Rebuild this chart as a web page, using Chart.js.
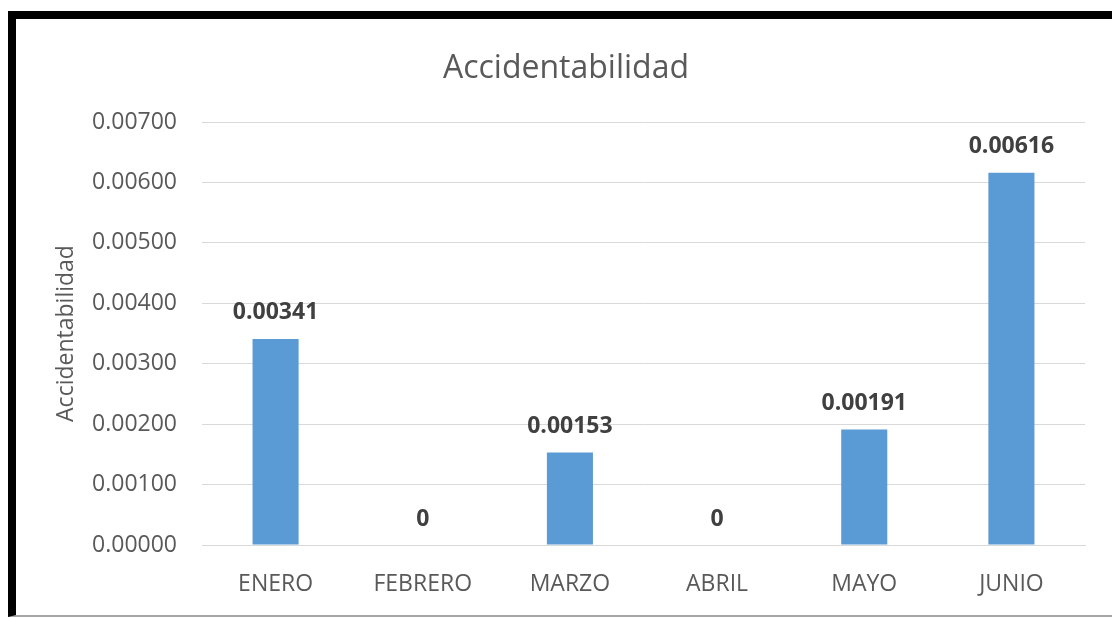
<!DOCTYPE html>
<html>
<head>
<meta charset="utf-8">
<script src="https://cdn.jsdelivr.net/npm/chart.js@4/dist/chart.umd.min.js"></script>
<style>
  html, body { margin: 0; padding: 0; background: #fff; }
  #frame {
    position: absolute; left: 8px; top: 11px; width: 1104px; height: 596px;
    border-left: 8px solid #000; border-top: 8px solid #000;
    border-bottom: 2px solid #a6a6a6; background: #fff;
  }
  #wrap { position: absolute; left: 0; top: 0; width: 1096px; height: 596px; }
</style>
</head>
<body>
<div id="frame"><div id="wrap"><canvas id="chart"></canvas></div></div>
<script>
// Data
const months = ['ENERO', 'FEBRERO', 'MARZO', 'ABRIL', 'MAYO', 'JUNIO'];
const accidentabilidad = [0.00341, 0, 0.00153, 0, 0.00191, 0.00616];
const yMax = 0.007;
const yStep = 0.001;

const FONT = '"Open Sans", "Liberation Sans", sans-serif';
const TEXT = '#595959';

// Bar value labels
const valueLabels = {
  id: 'valueLabels',
  afterDatasetsDraw(chart) {
    const ctx = chart.ctx;
    const meta = chart.getDatasetMeta(0);
    ctx.save();
    ctx.font = 'bold 23px ' + FONT;
    ctx.fillStyle = '#404040';
    ctx.textAlign = 'center';
    ctx.textBaseline = 'middle';
    meta.data.forEach((bar, i) => {
      const v = accidentabilidad[i];
      const txt = v === 0 ? '0' : v.toFixed(5);
      ctx.fillText(txt, bar.x, bar.y - 26);
    });
    ctx.restore();
  }
};

// Chart title drawn at a fixed spot
const chartTitle = {
  id: 'chartTitle',
  afterDraw(chart) {
    const ctx = chart.ctx;
    ctx.save();
    ctx.font = '32px ' + FONT;
    ctx.fillStyle = TEXT;
    ctx.textAlign = 'center';
    ctx.textBaseline = 'middle';
    ctx.fillText('Accidentabilidad', 550, 50);
    ctx.restore();
  }
};

new Chart(document.getElementById('chart'), {
  type: 'bar',
  data: {
    labels: months,
    datasets: [{
      label: 'Accidentabilidad',
      data: accidentabilidad,
      backgroundColor: '#5b9bd5',
      borderWidth: 0,
      categoryPercentage: 1,
      barPercentage: 0.313
    }]
  },
  options: {
    responsive: true,
    maintainAspectRatio: false,
    animation: false,
    layout: { padding: { top: 103, right: 27, bottom: 0, left: 0 } },
    plugins: {
      legend: { display: false },
      title: { display: false },
      tooltip: { enabled: false }
    },
    scales: {
      x: {
        grid: { display: false, drawTicks: false },
        border: { display: true, color: '#d9d9d9', width: 1 },
        ticks: { color: TEXT, font: { family: FONT, size: 23 }, padding: 26 },
        afterFit(scale) { scale.height = 70; }
      },
      y: {
        min: 0,
        max: yMax,
        ticks: {
          stepSize: yStep,
          color: TEXT,
          font: { family: FONT, size: 23 },
          padding: 25,
          callback: v => v.toFixed(5)
        },
        grid: { color: '#d9d9d9', drawTicks: false },
        border: { display: false },
        title: {
          display: true,
          text: 'Accidentabilidad',
          color: TEXT,
          font: { family: FONT, size: 23 },
          padding: { top: 37, bottom: 0 }
        },
        afterFit(scale) { scale.width = 186; }
      }
    }
  },
  plugins: [valueLabels, chartTitle]
});
</script>
</body>
</html>
